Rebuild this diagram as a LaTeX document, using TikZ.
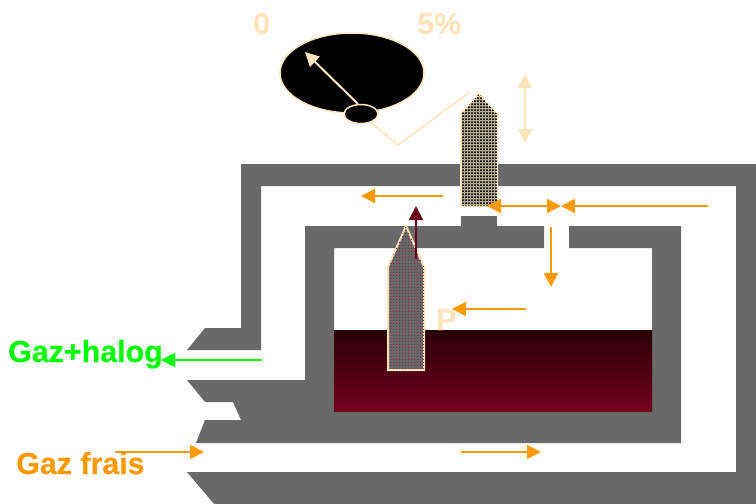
\documentclass[tikz,border=0pt]{standalone}
\usepackage{fontspec}
\setmainfont{Liberation Sans}
\newfontfamily\labfont{Liberation Sans}[UprightFont=* Bold,FakeBold=0.5]
\usetikzlibrary{arrows.meta,patterns,shapes.geometric}
\definecolor{wallgray}{HTML}{696969}
\definecolor{paletan}{HTML}{FFE4BC}
\definecolor{flow}{HTML}{FF9900}
\definecolor{maroon}{HTML}{6B001F}
\definecolor{gasgreen}{HTML}{00FF00}
\definecolor{liqtop}{HTML}{2A0008}
\definecolor{liqbot}{HTML}{73001C}
\definecolor{needleA}{HTML}{B9AB90}
\definecolor{needleB}{HTML}{696969}
\definecolor{needleC}{HTML}{7E3045}
\pgfdeclarepatternformonly{checkA}{\pgfqpoint{0pt}{0pt}}{\pgfqpoint{3pt}{3pt}}{\pgfqpoint{3pt}{3pt}}{%
  \pgfpathrectangle{\pgfqpoint{0pt}{0pt}}{\pgfqpoint{2.3pt}{2.3pt}}\pgfusepath{fill}}
\pgfdeclarepatternformonly{checkB}{\pgfqpoint{0pt}{0pt}}{\pgfqpoint{3pt}{3pt}}{\pgfqpoint{3pt}{3pt}}{%
  \pgfpathrectangle{\pgfqpoint{0pt}{0pt}}{\pgfqpoint{1.5pt}{1.5pt}}\pgfusepath{fill}}
\tikzset{
  wall/.style={fill=wallgray,draw=none},
  lab/.style={font=\labfont\fontsize{30.4}{30}\selectfont,inner sep=0pt,anchor=base west},
  flowline/.style={draw=flow,line width=2pt,-{Triangle[length=14pt,width=14pt]}},
  flowboth/.style={draw=flow,line width=2pt,{Triangle[length=14pt,width=14pt]}-{Triangle[length=14pt,width=14pt]}},
  tanline/.style={draw=paletan,line width=1.5pt},
  needle/.style={draw=paletan,line width=2pt,line join=miter}
}
\begin{document}
\begin{tikzpicture}[x=1pt,y=-1pt]
\useasboundingbox (0,0) rectangle (756,504);
% walls
\fill[wall] (241,164) -- (756,164) -- (756,504) -- (214,504) -- (187,472) -- (736,472) -- (736,186) -- (261,186) -- (261,350) -- (187,350) -- (205,328) -- (241,328) -- cycle;
\fill[wall] (187,380) -- (305,380) -- (305,226) -- (544,226) -- (544,248) -- (334,248) -- (334,410) -- (652,410) -- (652,248) -- (569,248) -- (569,226) -- (681,226) -- (681,443) -- (196,443) -- (205,420) -- (241,420) -- (233,402) -- (205,402) -- cycle;
\fill[wall] (461,216) rectangle (497,226);
% liquid
\shade[top color=liqtop,bottom color=liqbot] (334,330) rectangle (652,411);
% dial
\node[draw=paletan,line width=1.5pt,fill=black,ellipse,minimum width=144pt,minimum height=80pt,inner sep=0pt] (dial) at (352,73) {};
\coordinate (pivot) at (358,104);
\coordinate (tip) at (305,52);
\draw[tanline,line width=2pt,-{Triangle[length=14pt,width=14pt]}] (pivot) -- (tip);
\node[draw=paletan,line width=1.5pt,fill=black,ellipse,minimum width=34pt,minimum height=19pt,inner sep=0pt] (hub) at (361,114) {};
\coordinate (elbow) at (398,145);
\coordinate (linkend) at (470,92);
\draw[tanline] (hub) -- (elbow) -- (linkend);
\coordinate (upA) at (525,74);
\coordinate (upB) at (525,143);
\draw[tanline,line width=2pt,{Triangle[length=14pt,width=14pt]}-{Triangle[length=14pt,width=14pt]}] (upA) -- (upB);
% needles
\path[needle,fill=needleA] (461,114) -- (479,94) -- (497,114) -- (497,206) -- (461,206) -- cycle;
\fill[pattern=checkA,pattern color=black!90] (461,114) -- (479,94) -- (497,114) -- (497,206) -- (461,206) -- cycle;
\path[needle,fill=needleB] (388,267) -- (406,226) -- (424,267) -- (424,370) -- (388,370) -- cycle;
\fill[pattern=checkB,pattern color=needleC] (388,267) -- (406,226) -- (424,267) -- (424,370) -- (388,370) -- cycle;
% labels
\node[lab,text=paletan] (zero) at (253,34) {0};
\node[lab,text=paletan] (five) at (417,34) {5\%};
\node[lab,text=paletan] (pp) at (436,330) {P};
\node[lab,text=gasgreen] (halog) at (8,362) {Gaz+halog};
\node[lab,text=flow] (frais) at (16,474) {Gaz frais};
% flows
\coordinate (a1) at (443,196); \coordinate (a2) at (361,196);
\draw[flowline] (a1) -- (a2);
\coordinate (b1) at (487,206); \coordinate (b2) at (561,206); \coordinate (b3) at (708,206);
\draw[flowboth] (b1) -- (b2);
\draw[flowline] (b3) -- (b2);
\coordinate (c1) at (551,227); \coordinate (c2) at (551,287);
\draw[flowline] (c1) -- (c2);
\coordinate (d1) at (526,309); \coordinate (d2) at (452,309);
\draw[flowline] (d1) -- (d2);
\coordinate (e1) at (115,452); \coordinate (e2) at (204,452);
\draw[flowline] (e1) -- (e2);
\coordinate (f1) at (461,452); \coordinate (f2) at (541,452);
\draw[flowline] (f1) -- (f2);
\coordinate (g1) at (262,360); \coordinate (g2) at (161,360);
\draw[draw=gasgreen,line width=2pt,-{Triangle[length=14pt,width=14pt]}] (g1) -- (g2);
\coordinate (m1) at (416,259); \coordinate (m2) at (416,206);
\draw[draw=maroon,line width=2pt,-{Triangle[length=14pt,width=14pt]}] (m1) -- (m2);
\end{tikzpicture}
\end{document}
